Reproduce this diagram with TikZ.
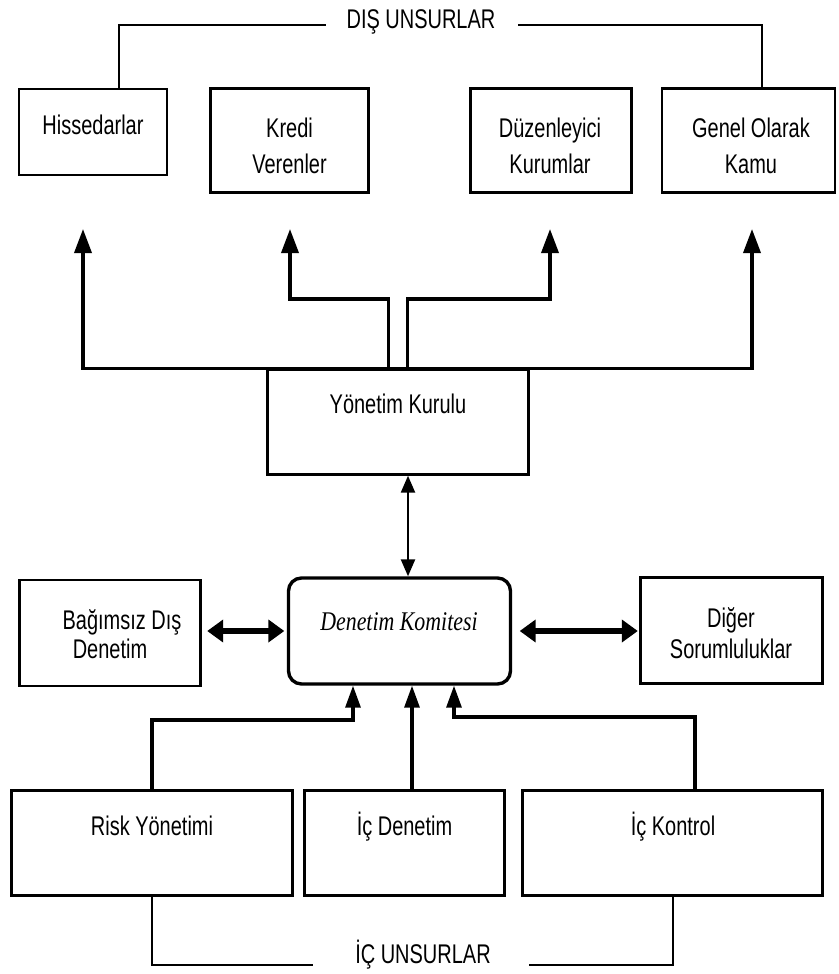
\documentclass[tikz,border=0pt]{standalone}
\usepackage{fontspec}
\setmainfont[FakeStretch=0.74]{Liberation Sans}
\newfontfamily\dkfont[FakeStretch=0.81]{Liberation Serif}
\usetikzlibrary{arrows.meta,calc}
\begin{document}
\begin{tikzpicture}[x=1pt,y=-1pt,
  box/.style={draw, line width=2.4pt, inner sep=0pt},
  lbl/.style={anchor=base, inner sep=0pt, font=\fontsize{27}{30}\selectfont},
  bracket/.style={line width=2pt},
  up/.style={line width=3.5pt, -{Triangle[length=24pt,width=17pt]}},
  upb/.style={line width=3.2pt, -{Triangle[length=22pt,width=15pt]}},
  vdarr/.style={line width=2.4pt, {Triangle[length=17pt,width=14pt]}-{Triangle[length=17pt,width=14pt]}},
  hdarr/.style={line width=6pt, {Triangle[length=16pt,width=22pt]}-{Triangle[length=16pt,width=22pt]}}
]
\useasboundingbox (0,0) rectangle (838,974);

% boxes
\node[box, minimum width=148pt, minimum height=86pt] (hiss) at (93,132) {};
\node[box, minimum width=158pt, minimum height=104pt] (kredi) at (289.5,140.5) {};
\node[box, minimum width=161pt, minimum height=104pt] (duz) at (551,140.5) {};
\node[box, minimum width=173pt, minimum height=104pt] (genel) at (748.5,140.5) {};
\node[box, minimum width=261pt, minimum height=105pt] (yk) at (398,422) {};
\node[box, minimum width=181pt, minimum height=106pt] (bag) at (110,633) {};
\node[box, line width=3.4pt, rounded corners=13pt, minimum width=222pt, minimum height=106pt] (dk) at (399.5,631) {};
\node[box, minimum width=182pt, minimum height=106pt] (dig) at (731.5,630.5) {};
\node[box, minimum width=281pt, minimum height=105pt] (risk) at (152,843) {};
\node[box, minimum width=200pt, minimum height=105pt] (icd) at (404.5,843) {};
\node[box, minimum width=300pt, minimum height=105pt] (ick) at (672.5,843) {};

% texts
\node[lbl] (hisst) at (93,134) {Hissedarlar};
\node[lbl] (kredit1) at (289.5,137) {Kredi};
\node[lbl] (kredit2) at (289.5,173) {Verenler};
\node[lbl] (duzt1) at (550,137) {Düzenleyici};
\node[lbl] (duzt2) at (550,173) {Kurumlar};
\node[lbl] (genelt1) at (751,137) {Genel Olarak};
\node[lbl] (genelt2) at (751,173) {Kamu};
\node[lbl] (ykt) at (398,413) {Yönetim Kurulu};
\node[lbl] (bagt1) at (122,629) {Bağımsız Dış};
\node[lbl] (bagt2) at (110,658) {Denetim};
\node[anchor=base, inner sep=0pt, font=\dkfont\itshape\fontsize{27}{30}\selectfont] (dkt) at (399,630) {Denetim Komitesi};
\node[lbl] (digt1) at (731,627) {Diğer};
\node[lbl] (digt2) at (731,658) {Sorumluluklar};
\node[lbl] (riskt) at (152,835) {Risk Yönetimi};
\node[lbl] (icdt) at (404.5,835) {İç Denetim};
\node[lbl] (ickt) at (673,835) {İç Kontrol};
\node[lbl] (dis) at (421,29) {DIŞ UNSURLAR};
\node[lbl] (ic) at (423,963) {İÇ UNSURLAR};

% top brackets
\coordinate (dl) at (119,25);
\coordinate (dlt) at (326,25);
\coordinate (drt) at (518,25);
\coordinate (dr) at (762,25);
\draw[bracket] (dl |- hiss.north) -- (dl) -- (dlt);
\draw[bracket] (drt) -- (dr) -- (dr |- genel.north);

% bottom brackets
\coordinate (il) at (152,965);
\coordinate (ilt) at (313,965);
\coordinate (irt) at (529,965);
\coordinate (ir) at (672.5,965);
\draw[bracket] (risk.south) -- (il) -- (ilt);
\draw[bracket] (irt) -- (ir) -- (ick.south);

% arrows from Yönetim Kurulu
\coordinate (t1) at (83,229);
\coordinate (t2) at (290,229);
\coordinate (t3) at (550,229);
\coordinate (t4) at (752,229);
\coordinate (m2) at (290,299);
\coordinate (m3) at (550,299);
\draw[up] (yk.north) -| (t1);
\draw[up] (yk.north) -| (t4);
\draw[up] ([xshift=-9.5pt]yk.north) |- (m2) -- (t2);
\draw[up] ([xshift=9.5pt]yk.north) |- (m3) -- (t3);

% Yönetim Kurulu <-> Denetim Komitesi
\draw[vdarr] ([xshift=10pt]yk.south) -- ([xshift=8.5pt]dk.north);

% side double arrows
\draw[hdarr, shorten <=5.5pt, shorten >=2.5pt] (bag.east |- dk.west) -- (dk.west);
\draw[hdarr, shorten <=7.5pt, shorten >=1.5pt] (dk.east) -- (dig.west |- dk.east);

% bottom arrows into Denetim Komitesi
\coordinate (b1) at (353,720);
\coordinate (b3) at (454,717);
\draw[upb] (risk.north) |- (b1) -- (b1 |- dk.south);
\draw[upb] ([xshift=7.5pt]icd.north) -- ([xshift=12.5pt]dk.south);
\draw[upb] ([xshift=22.5pt]ick.north) |- (b3) -- (b3 |- dk.south);
\end{tikzpicture}
\end{document}
